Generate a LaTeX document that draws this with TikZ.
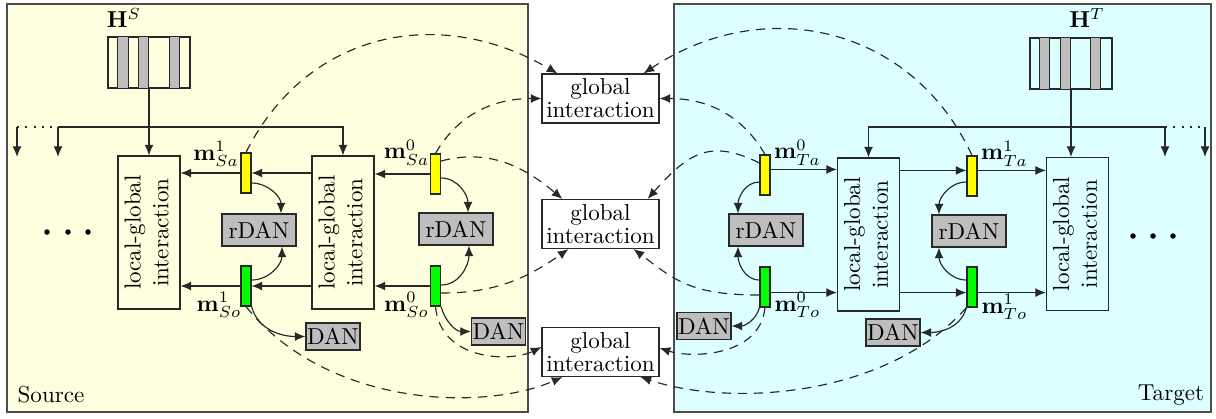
\documentclass[tikz,border=0pt]{standalone}
\usetikzlibrary{arrows.meta,calc}
\def\pxu{0.4336pt}
\definecolor{srcbg}{RGB}{255,255,224}
\definecolor{tgtbg}{RGB}{221,255,255}
\definecolor{bary}{RGB}{255,255,0}
\definecolor{barg}{RGB}{0,255,0}
\definecolor{boxgray}{RGB}{190,190,190}
\definecolor{lncol}{RGB}{40,40,40}
\begin{document}
\begin{tikzpicture}[x=0.4336pt,y=-0.4336pt,
 ln/.style={draw=lncol, line width=0.5pt},
 arr/.style={ln, -{Latex[length=4.6pt,width=3.9pt]}},
 dsh/.style={arr, dash pattern=on 4pt off 3pt},
 dtt/.style={ln, dash pattern=on 0.9pt off 2.7pt},
 panel/.style={draw=black!70, line width=0.6pt},
 lg/.style={ln, minimum width=62*\pxu, minimum height=153*\pxu, inner sep=0pt},
 gi/.style={ln, fill=white, minimum width=117*\pxu, minimum height=49*\pxu, inner sep=0pt, align=center},
 bar/.style={ln, minimum width=10*\pxu, minimum height=40*\pxu, inner sep=0pt},
 ybar/.style={bar, fill=bary},
 gbar/.style={bar, fill=barg},
 rdan/.style={ln, fill=boxgray, minimum width=74*\pxu, minimum height=32*\pxu, inner sep=0pt},
 dan/.style={ln, fill=boxgray, minimum width=54*\pxu, minimum height=27*\pxu, inner sep=0pt},
 hb/.style={ln, minimum width=82*\pxu, minimum height=51*\pxu, inner sep=0pt},
 stripe/.style={ln, fill=boxgray},
 lab/.style={inner sep=0pt},
 bigdot/.style={circle, fill=black, inner sep=0pt, minimum size=5.5*\pxu},
]
\useasboundingbox (0,0) rectangle (1216,418);
% panels
\draw[panel, fill=srcbg] (7,4) rectangle (528,412);
\draw[panel, fill=tgtbg] (674,4) rectangle (1211,412);
\node[lab] (src) at (51,395) {Source};
\node[lab] (tgt) at (1171,395) {Target};

% feature blocks
\node[hb] (HS) at (149,62.5) {};
\foreach \a/\b in {10/21,31/41,62/72}{
  \draw[stripe] ($(HS.north west)+(\a,0)$) rectangle ($(HS.south west)+(\b,0)$);}
\draw[ln] (HS.north west) rectangle (HS.south east);
\node[lab] (HSl) at (124,18) {$\mathbf{H}^S$};
\node[hb] (HT) at (1071,63.5) {};
\foreach \a/\b in {10/20,31/41,61/71}{
  \draw[stripe] ($(HT.north west)+(\a,0)$) rectangle ($(HT.south west)+(\b,0)$);}
\draw[ln] (HT.north west) rectangle (HT.south east);
\node[lab] (HTl) at (1087,18) {$\mathbf{H}^T$};

% local-global boxes
\node[lg] (LG1) at (149,232.5) {\rotatebox{90}{\begin{tabular}{@{}c@{}}local-global\\interaction\end{tabular}}};
\node[lg] (LG2) at (343,232.5) {\rotatebox{90}{\begin{tabular}{@{}c@{}}local-global\\interaction\end{tabular}}};
\node[lg] (RG1) at (868.5,234.5) {\rotatebox{90}{\begin{tabular}{@{}c@{}}local-global\\interaction\end{tabular}}};
\node[lg] (RG2) at (1077.5,234) {\rotatebox{90}{\begin{tabular}{@{}c@{}}local-global\\interaction\end{tabular}}};

% global interaction boxes
\node[gi] (G1) at (600.5,98.5) {global\\[-2pt]interaction};
\node[gi] (G2) at (600.5,224) {global\\[-2pt]interaction};
\node[gi] (G3) at (600.5,352) {global\\[-2pt]interaction};

% bars
\node[ybar] (Sa1) at (246,173) {};
\node[gbar] (So1) at (246,286) {};
\node[ybar] (Sa0) at (435.5,174) {};
\node[gbar] (So0) at (435.5,286) {};
\node[ybar] (Ta0) at (765,175) {};
\node[gbar] (To0) at (765,287) {};
\node[ybar] (Ta1) at (972,176) {};
\node[gbar] (To1) at (972,287) {};

% bar labels
\node[lab] (lSa1) at (216,154) {$\mathbf{m}^1_{Sa}$};
\node[lab] (lSo1) at (219,305) {$\mathbf{m}^1_{So}$};
\node[lab] (lSa0) at (406.5,152.5) {$\mathbf{m}^0_{Sa}$};
\node[lab] (lSo0) at (406.5,305) {$\mathbf{m}^0_{So}$};
\node[lab] (lTa0) at (797.5,152.5) {$\mathbf{m}^0_{Ta}$};
\node[lab] (lTo0) at (797.5,305) {$\mathbf{m}^0_{To}$};
\node[lab] (lTa1) at (1004.5,153.5) {$\mathbf{m}^1_{Ta}$};
\node[lab] (lTo1) at (1004.5,307) {$\mathbf{m}^1_{To}$};

% rDAN / DAN
\node[rdan] (rS1) at (259,230) {rDAN};
\node[rdan] (rS0) at (456,229) {rDAN};
\node[rdan] (rT0) at (766,230) {rDAN};
\node[rdan] (rT1) at (969,231) {rDAN};
\node[dan] (DS1) at (333,336.5) {DAN};
\node[dan] (DS0) at (498.5,331.5) {DAN};
\node[dan] (DT0) at (704,326) {DAN};
\node[dan] (DT1) at (893,332.5) {DAN};

% dots
\foreach \i/\x in {1/47,2/68,3/88}{\node[bigdot] (dl\i) at (\x,232) {};}
\foreach \i/\x in {1/1133,2/1153,3/1173}{\node[bigdot] (dr\i) at (\x,236) {};}

% bus lines
\coordinate (bL) at (58,127); \coordinate (bLd) at (17,127);
\coordinate (eL1) at (58,157); \coordinate (eL2) at (17,157);
\draw[arr] (bL) -| (LG2.north);
\draw[arr] (bL) -- (eL1);
\draw[dtt] (bLd) -- (52,127);
\draw[arr] (bLd) -- (eL2);
\draw[arr] (HS.south) -- (LG1.north);
\coordinate (bR) at (1165,127); \coordinate (bRd) at (1205,127);
\coordinate (eR1) at (1165,157); \coordinate (eR2) at (1205,157);
\draw[arr] (bR) -| (RG1.north);
\draw[arr] (bR) -- (eR1);
\draw[dtt] (bR) -- (bRd);
\draw[arr] (bRd) -- (eR2);
\draw[arr] (HT.south) -- (HT.south |- RG2.north);

% horizontal flow, source
\draw[arr] (Sa0.west) -- (Sa0.west -| LG2.east);
\draw[arr] (LG2.west |- Sa1.east) -- (Sa1.east);
\draw[arr] (Sa1.west) -- (Sa1.west -| LG1.east);
\draw[arr] (So0.west) -- (So0.west -| LG2.east);
\draw[arr] (LG2.west |- So1.east) -- (So1.east);
\draw[arr] (So1.west) -- (So1.west -| LG1.east);
% horizontal flow, target
\draw[arr] (Ta0.45) -- (Ta0.45 -| RG1.west);
\draw[arr] (RG1.east |- Ta1.135) -- (Ta1.135);
\draw[arr] (Ta1.45) -- (Ta1.45 -| RG2.west);
\draw[arr] (To0.-45) -- (To0.-45 -| RG1.west);
\draw[arr] (RG1.east |- To1.-135) -- (To1.-135);
\draw[arr] (To1.-45) -- (To1.-45 -| RG2.west);

% rDAN curves
\draw[arr] ($(Sa1.east)+(0,10)$) to[out=0,in=90] ($(rS1.north)+(22,0)$);
\draw[arr] ($(So1.east)+(0,-6)$) to[out=0,in=-90] ($(rS1.south)+(23,0)$);
\draw[arr] ($(Sa0.east)+(0,4)$) to[out=0,in=90] ($(rS0.north)+(12,0)$);
\draw[arr] ($(So0.east)+(0,-1)$) to[out=0,in=-90] ($(rS0.south)+(13,0)$);
\draw[arr] ($(Ta0.west)+(0,7)$) to[out=180,in=90] ($(rT0.north)+(-28,0)$);
\draw[arr] ($(To0.west)+(0,-7)$) to[out=180,in=-90] ($(rT0.south)+(-28,0)$);
\draw[arr] ($(Ta1.west)+(0,6)$) to[out=180,in=90] ($(rT1.north)+(-30,0)$);
\draw[arr] ($(To1.west)+(0,-7)$) to[out=180,in=-90] ($(rT1.south)+(-30,0)$);

% DAN curves
\draw[arr] (So1.south east) to[out=-75,in=180] (DS1.west);
\draw[arr] (So0.south east) to[out=-75,in=180] (DS0.west);
\draw[arr] (To0.south west) to[out=-105,in=0] (DT0.east);
\draw[arr] (To1.south west) to[out=-105,in=0] (DT1.east);

% dashed links to global interaction
\draw[dsh] (Sa1.north) .. controls +(60,-120) and +(-120,-70) .. ($(G1.north west)+(16,0)$);
\draw[dsh] (Sa0.north) to[out=60,in=180] (G1.west);
\draw[dsh] ($(Sa0.east)+(0,-13)$) to[out=15,in=140] ($(G2.north west)+(21,0)$);
\draw[dsh] ($(So0.east)+(0,7)$) to[out=0,in=-145] ($(G2.south west)+(27,0)$);
\draw[dsh] (So0.south) .. controls +(5,55) and +(-30,15) .. ($(G3.west)+(0,-5)$);
\draw[dsh] (So1.south) .. controls +(80,100) and +(-80,35) .. ($(G3.south west)+(21,0)$);
\draw[dsh] (Ta1.north) .. controls +(-60,-130) and +(120,-80) .. ($(G1.north east)+(-16,0)$);
\draw[dsh] (Ta0.north) to[out=120,in=0] (G1.east);
\draw[dsh] ($(Ta0.west)+(0,-12)$) .. controls +(-50,-25) and +(40,-45) .. ($(G2.north east)+(-12,0)$);
\draw[dsh] ($(To0.west)+(0,8)$) .. controls +(-70,0) and +(40,30) .. ($(G2.south east)+(-26,0)$);
\draw[dsh] (To0.south) .. controls +(-5,50) and +(30,10) .. ($(G3.east)+(0,-4)$);
\draw[dsh] (To1.south west) .. controls +(-80,90) and +(90,30) .. ($(G3.south east)+(-19,0)$);
\end{tikzpicture}
\end{document}
